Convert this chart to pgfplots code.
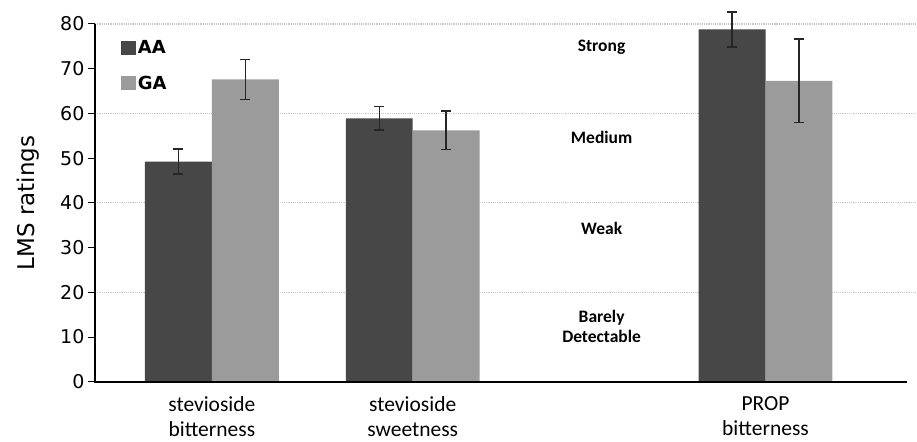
\documentclass[border=0pt]{standalone}
\usepackage{pgfplots}
\pgfplotsset{compat=1.18}
\usepackage{fontspec}
\setmainfont{DejaVu Sans}
\newfontfamily\carl{Carlito}
\definecolor{aa}{HTML}{474747}
\definecolor{ga}{HTML}{9B9B9B}
\begin{document}
\begin{tikzpicture}
\begin{axis}[
  scale only axis,
  width=815pt, height=358pt,
  xmin=95, xmax=910,
  ymin=0, ymax=80,
  axis line style={draw=none},
  ytick={0,10,...,80},
  tick style={black, line width=1pt},
  ytick pos=left,
  major tick length=7pt,
  tick align=outside,
  xtick={212,413,766},
  xticklabels={stevioside\\bitterness, stevioside\\sweetness, PROP\\bitterness},
  xticklabel style={align=center, font=\carl\fontsize{21.5}{25}\selectfont, yshift=-4pt},
  x tick style={draw=none},
  yticklabel style={font=\fontsize{19}{19}\selectfont},
  /pgf/number format/assume math mode=true,
  ylabel={LMS ratings},
  ylabel style={font=\fontsize{23}{23}\selectfont, yshift=14pt},
  bar width=67,
  legend style={draw=none, fill=none, at={(rel axis cs:0.028,0.966)}, anchor=north west,
    font=\bfseries\fontsize{18}{18}\selectfont, row sep=17pt},
  legend cell align=left,
  legend image code/.code={\fill[#1] (0pt,-7pt) rectangle (15pt,7pt);},
  clip=false,
]
% gridlines
\foreach \g in {20,40,60,80} {
  \edef\temp{\noexpand\draw[gray!45, densely dotted, line width=1.2pt] (axis cs:95,\g) -- (axis cs:917,\g);}
  \temp
}
\addplot[ybar, bar shift=0, fill=aa, draw=none,
  error bars/.cd, y dir=both, y explicit, error bar style={line width=1.5pt, black!85}, error mark options={rotate=90, mark size=5pt, line width=1.5pt, black!85}]
  coordinates {(178.5,49.2) +- (0,2.8) (379.5,58.9) +- (0,2.6) (732.5,78.8) +- (0,3.9)};
\addplot[ybar, bar shift=0, fill=ga, draw=none,
  error bars/.cd, y dir=both, y explicit, error bar style={line width=1.5pt, black!85}, error mark options={rotate=90, mark size=5pt, line width=1.5pt, black!85}]
  coordinates {(245.5,67.6) +- (0,4.5) (446.5,56.2) +- (0,4.3) (799.5,67.3) +- (0,9.3)};
\legend{AA, GA}
% axis lines
\draw[black, line width=1.2pt] (axis cs:95,0) -- (axis cs:95,80);
\draw[black, line width=2.2pt] (axis cs:94.4,0) -- (axis cs:908,0);
% rating labels
\node[font=\carl\bfseries\fontsize{17.5}{20}\selectfont] at (axis cs:602,74.7) {Strong};
\node[font=\carl\bfseries\fontsize{17.5}{20}\selectfont] at (axis cs:602,54.7) {Medium};
\node[font=\carl\bfseries\fontsize{17.5}{20}\selectfont] at (axis cs:602,34.2) {Weak};
\node[font=\carl\bfseries\fontsize{17.5}{20}\selectfont, align=center] at (axis cs:602,12.3) {Barely\\Detectable};
\coordinate (bl) at (rel axis cs:-0.11656,-0.16760);
\coordinate (tr) at (rel axis cs:1.00859,1.06704);
\end{axis}
\path (bl) rectangle (tr);
\end{tikzpicture}
\end{document}
